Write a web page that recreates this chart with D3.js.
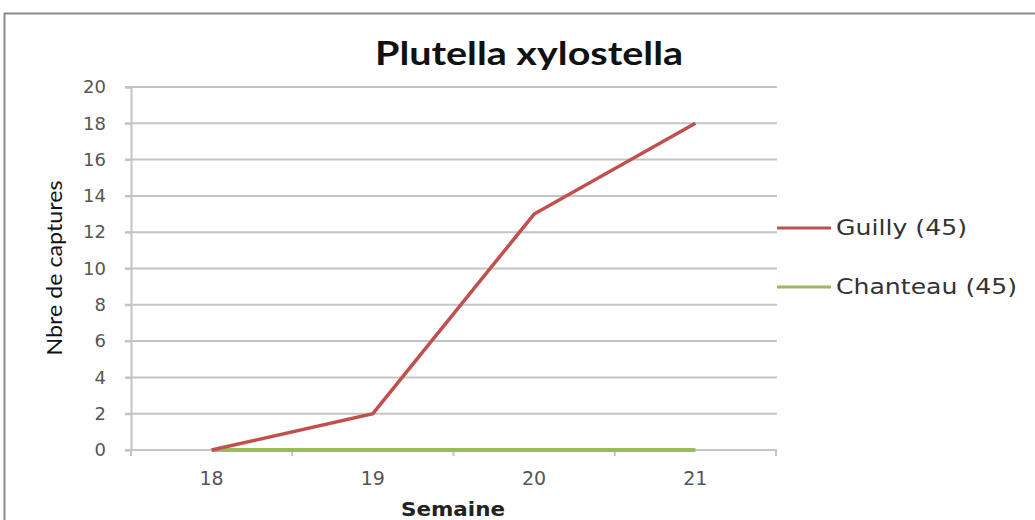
<!DOCTYPE html>
<html lang="fr">
<head>
<meta charset="utf-8">
<title>Plutella xylostella</title>
<script src="https://d3js.org/d3.v7.min.js"></script>
<style>
  body { margin: 0; background: #fff; }
</style>
</head>
<body>
<script>
// data
var semaines = ["18", "19", "20", "21"];
var guilly = [0, 2, 13, 18];
var chanteau = [0, 0, 0, 0];
var yTicks = [0, 2, 4, 6, 8, 10, 12, 14, 16, 18, 20];
var seriesNames = ["Guilly (45)", "Chanteau (45)"];
var seriesColors = ["#c0504d", "#9bbb59"];

var width = 1035, height = 520;
var plot = { left: 131, right: 776, top: 87, bottom: 450 };

var svg = d3.select("body").append("svg")
  .attr("width", width)
  .attr("height", height);

// outer chart frame
svg.append("rect")
  .attr("x", 4.5).attr("y", 13.5)
  .attr("width", 1100).attr("height", 600)
  .attr("fill", "#fff")
  .attr("stroke", "#8c8c8c")
  .attr("stroke-width", 2);

var x = d3.scaleBand().domain(semaines).range([plot.left, plot.right]);
var y = d3.scaleLinear().domain([0, 20]).range([plot.bottom, plot.top]);

// gridlines
svg.append("g")
  .selectAll("line")
  .data(yTicks)
  .join("line")
  .attr("x1", plot.left - 6).attr("x2", plot.right + 1)
  .attr("y1", d => y(d)).attr("y2", d => y(d))
  .attr("stroke", "#c4c4c4")
  .attr("stroke-width", 2);

// y axis
var yAxis = svg.append("g")
  .attr("transform", "translate(" + plot.left + ",0)")
  .call(d3.axisLeft(y).tickValues(yTicks).tickSize(6).tickPadding(19));
yAxis.select(".domain").attr("stroke", "#c4c4c4").attr("stroke-width", 2);
yAxis.selectAll(".tick line").attr("stroke", "#c4c4c4").attr("stroke-width", 2);
yAxis.selectAll("text")
  .attr("font-family", "DejaVu Sans, sans-serif")
  .attr("font-size", 18)
  .attr("fill", "#555");

// x axis (ticks between categories)
var xAxis = svg.append("g")
  .attr("transform", "translate(0," + plot.bottom + ")")
  .call(d3.axisBottom(x).tickSize(0).tickPadding(22));
xAxis.select(".domain").remove();
xAxis.selectAll("text")
  .attr("font-family", "DejaVu Sans, sans-serif")
  .attr("font-size", 19)
  .attr("fill", "#555");
var bounds = semaines.map(d => x(d)).concat([plot.right]);
xAxis.selectAll(".sep")
  .data(bounds)
  .join("line")
  .attr("class", "sep")
  .attr("x1", d => d).attr("x2", d => d)
  .attr("y1", 0).attr("y2", 6)
  .attr("stroke", "#c4c4c4")
  .attr("stroke-width", 2);

// lines
var line = d3.line()
  .x((d, i) => x(semaines[i]) + x.bandwidth() / 2)
  .y(d => y(d));

svg.append("path")
  .datum(chanteau)
  .attr("d", line)
  .attr("fill", "none")
  .attr("stroke", seriesColors[1])
  .attr("stroke-width", 4);

svg.append("path")
  .datum(guilly)
  .attr("d", line)
  .attr("fill", "none")
  .attr("stroke", seriesColors[0])
  .attr("stroke-width", 3.5)
  .attr("stroke-linejoin", "miter");

// title
svg.append("text")
  .attr("x", 529).attr("y", 65)
  .attr("text-anchor", "middle")
  .attr("font-family", "Lato, sans-serif")
  .attr("font-weight", "bold")
  .attr("font-size", 32)
  .attr("textLength", 308)
  .attr("lengthAdjust", "spacingAndGlyphs")
  .attr("fill", "#111")
  .text("Plutella xylostella");

// axis titles
svg.append("text")
  .attr("transform", "translate(62,268) rotate(-90)")
  .attr("text-anchor", "middle")
  .attr("font-family", "Lato, sans-serif")
  .attr("font-size", 21)
  .attr("textLength", 175)
  .attr("lengthAdjust", "spacingAndGlyphs")
  .attr("fill", "#111")
  .text("Nbre de captures");

svg.append("text")
  .attr("x", 453).attr("y", 516)
  .attr("text-anchor", "middle")
  .attr("font-family", "DejaVu Sans, sans-serif")
  .attr("font-weight", "bold")
  .attr("font-size", 19)
  .attr("textLength", 104)
  .attr("lengthAdjust", "spacingAndGlyphs")
  .attr("fill", "#222")
  .text("Semaine");

// legend
var legendY = [228, 287];
var legendW = [131, 181];
var legend = svg.append("g").selectAll("g")
  .data(seriesNames)
  .join("g")
  .attr("transform", (d, i) => "translate(777," + legendY[i] + ")");
legend.append("line")
  .attr("x1", 0).attr("x2", 54)
  .attr("stroke", (d, i) => seriesColors[i])
  .attr("stroke-width", 3);
legend.append("text")
  .attr("x", 59).attr("dy", "0.35em")
  .attr("font-family", "DejaVu Sans, sans-serif")
  .attr("font-size", 21)
  .attr("textLength", (d, i) => legendW[i])
  .attr("lengthAdjust", "spacingAndGlyphs")
  .attr("fill", "#333")
  .text(d => d);
</script>
</body>
</html>
